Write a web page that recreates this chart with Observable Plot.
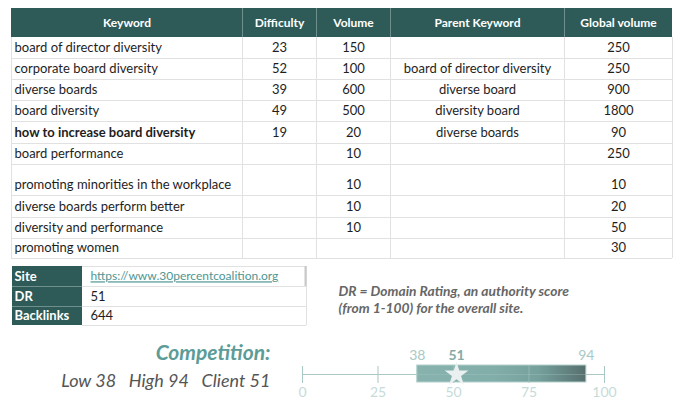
<!DOCTYPE html>
<html>
<head>
<meta charset="utf-8">
<script src="https://cdn.jsdelivr.net/npm/d3@7"></script>
<script src="https://cdn.jsdelivr.net/npm/@observablehq/plot@0.6"></script>
<style>
  html, body { margin: 0; padding: 0; background: #fff; }
  #wrap { position: relative; width: 684px; height: 408px; font-family: Lato, sans-serif; }
  #wrap svg { position: absolute; left: 0; top: 0; background: transparent; }
</style>
</head>
<body>
<div id="wrap"></div>
<script>
// ---------- DATA ----------
const headers = ["Keyword", "Difficulty", "Volume", "Parent Keyword", "Global volume"];
const keywords = [
  "board of director diversity", "corporate board diversity", "diverse boards", "board diversity",
  "how to increase board diversity", "board performance", "promoting minorities in the workplace",
  "diverse boards perform better", "diversity and performance", "promoting women"
];
const difficulty = [23, 52, 39, 49, 19, null, null, null, null, null];
const volume = [150, 100, 600, 500, 20, 10, 10, 10, 10, null];
const parentKeyword = ["", "board of director diversity", "diverse board", "diversity board", "diverse boards", "", "", "", "", ""];
const globalVolume = [250, 250, 900, 1800, 90, 250, 10, 20, 50, 30];
const boldKeywords = ["how to increase board diversity"];

const siteLabels = ["Site", "DR", "Backlinks"];
const siteValues = ["https://www.30percentcoalition.org", "51", "644"];
const noteLines = ["DR = Domain Rating, an authority score", "(from 1-100) for the overall site."];

const competitionTitle = "Competition:";
const compLow = 38, compHigh = 94, compClient = 51;
const scaleTicks = [0, 25, 50, 75, 100];

// ---------- LAYOUT ----------
const colEdges = [11, 242, 316, 390, 564, 672];
const headerTop = 8;
const rowEdges = [37, 58, 79, 100, 121, 143, 164, 195, 217, 238, 258];
const rowTextH = 21;
const siteBox = {x0: 12, xl: 82, x1: 306, rows: [266, 286, 306, 325]};
const teal = "#2e5b58";
const gridC = "#e1e1e1";

// build cells
const columns = [keywords, difficulty, volume, parentKeyword, globalVolume];
const headerCells = headers.map((h, j) => ({text: h, x: (colEdges[j] + colEdges[j + 1]) / 2, y: (headerTop + rowEdges[0]) / 2}));
const keywordCells = [];
const valueCells = [];
keywords.forEach((k, i) => {
  const y = rowEdges[i + 1] - rowTextH / 2;
  columns.forEach((col, j) => {
    const v = col[i];
    if (v === null || v === "") return;
    if (j === 0) keywordCells.push({text: v, x: colEdges[0] + 3, y, bold: boldKeywords.includes(v)});
    else valueCells.push({text: String(v), x: (colEdges[j] + colEdges[j + 1]) / 2, y});
  });
});
const siteCells = siteLabels.map((l, i) => ({
  label: l, value: siteValues[i],
  y: (siteBox.rows[i] + siteBox.rows[i + 1]) / 2,
  y1: siteBox.rows[i], y2: siteBox.rows[i + 1]
}));

const tablePlot = Plot.plot({
  width: 684, height: 408, margin: 0,
  x: {type: "identity", axis: null},
  y: {type: "identity", axis: null},
  style: {fontFamily: "Lato, sans-serif", background: "transparent"},
  marks: [
    // header
    Plot.rect([0], {x1: colEdges[0], x2: colEdges[colEdges.length - 1], y1: headerTop, y2: rowEdges[0], fill: teal}),
    Plot.ruleX(colEdges.slice(1, -1), {y1: headerTop, y2: rowEdges[0], stroke: "#6f8f8d", strokeWidth: 1}),
    Plot.text(headerCells, {x: "x", y: "y", text: "text", fill: "#fff", fontWeight: "bold", fontSize: 12}),
    // body grid
    Plot.ruleY(rowEdges.slice(1), {x1: colEdges[0], x2: colEdges[colEdges.length - 1], stroke: gridC}),
    Plot.ruleX(colEdges, {y1: rowEdges[0], y2: rowEdges[rowEdges.length - 1], stroke: gridC}),
    Plot.text(keywordCells.filter(d => !d.bold), {x: "x", y: "y", text: "text", textAnchor: "start", fill: "#1e1e1e", fontSize: 13}),
    Plot.text(keywordCells.filter(d => d.bold), {x: "x", y: "y", text: "text", textAnchor: "start", fill: "#1e1e1e", fontSize: 13, fontWeight: "bold"}),
    Plot.text(valueCells, {x: "x", y: "y", text: "text", textAnchor: "middle", fill: "#1e1e1e", fontSize: 13}),
    // site box
    Plot.rect(siteCells, {x1: siteBox.x0, x2: siteBox.xl, y1: "y1", y2: "y2", fill: teal}),
    Plot.ruleY(siteBox.rows.slice(1, -1), {x1: siteBox.x0, x2: siteBox.xl, stroke: "#6f8f8d"}),
    Plot.ruleY(siteBox.rows, {x1: siteBox.xl, x2: siteBox.x1, stroke: gridC}),
    Plot.ruleX([siteBox.x1], {y1: siteBox.rows[0], y2: siteBox.rows[3], stroke: gridC}),
    Plot.ruleX([siteBox.x1 - 1], {y1: siteBox.rows[0], y2: siteBox.rows[1], stroke: "#c8c8c8", strokeWidth: 2}),
    Plot.text(siteCells, {x: siteBox.x0 + 2, y: "y", text: "label", textAnchor: "start", fill: "#fff", fontWeight: "bold", fontSize: 13}),
    Plot.text(siteCells.slice(0, 1), {x: siteBox.xl + 8, y: "y", text: "value", textAnchor: "start", fill: "#4e9692", fontSize: 12}),
    Plot.text(siteCells.slice(1), {x: siteBox.xl + 8, y: "y", text: "value", textAnchor: "start", fill: "#1e1e1e", fontSize: 13}),
    // note
    Plot.text(noteLines, {x: 338, y: (d, i) => 291 + i * 17, text: d => d, textAnchor: "start", fill: "#666",
      fontSize: 13.8, fontStyle: "italic", fontWeight: 700}),
    // competition text
    Plot.text([competitionTitle], {x: 270, y: 353, text: d => d, textAnchor: "end", fill: "#5c9c98",
      fontSize: 21, fontStyle: "italic", fontWeight: "bold"}),
    Plot.text([`Low ${compLow}\u00a0\u00a0 High ${compHigh}\u00a0\u00a0 Client ${compClient}`], {x: 270, y: 381, text: d => d,
      textAnchor: "end", fill: "#555", fontSize: 18, fontStyle: "italic"})
  ]
});
d3.select(tablePlot).selectAll("text").filter(function () { return this.textContent.startsWith("http"); })
  .style("text-decoration", "underline");

// ---------- BULLET ----------
const bulletY = 374, barTop = 365, barBottom = 382, tickTop = 366, tickBottom = 383;
const bulletPlot = Plot.plot({
  width: 684, height: 408,
  marginLeft: 302, marginRight: 80, marginTop: 0, marginBottom: 0,
  x: {domain: [scaleTicks[0], scaleTicks[scaleTicks.length - 1]], axis: null},
  y: {type: "identity", axis: null},
  style: {fontFamily: "Lato, sans-serif", background: "transparent"},
  marks: [
    () => {
      const defs = d3.create("svg:defs");
      const g = defs.append("linearGradient").attr("id", "bulletGrad");
      [["0%", "#87b2ae"], ["45%", "#82aeaa"], ["72%", "#75a09c"], ["100%", "#566f6e"]]
        .forEach(([o, c]) => g.append("stop").attr("offset", o).attr("stop-color", c));
      return defs.node();
    },
    Plot.ruleY([bulletY], {x1: scaleTicks[0], x2: scaleTicks[scaleTicks.length - 1], stroke: "#a9c7c4"}),
    Plot.ruleX(scaleTicks, {y1: tickTop, y2: tickBottom, stroke: "#a9c7c4"}),
    Plot.rect([{low: compLow, high: compHigh}], {x1: "low", x2: "high", y1: barTop, y2: barBottom,
      fill: "url(#bulletGrad)", stroke: "#b3cfcc", strokeWidth: 1}),
    Plot.ruleY([bulletY], {x1: compLow, x2: compHigh, stroke: "#a9c7c4", strokeOpacity: 0.35}),
    Plot.ruleX(scaleTicks.filter(t => t > compLow && t < compHigh), {y1: barTop, y2: barBottom, stroke: "#a9c7c4", strokeOpacity: 0.6}),
    Plot.dot([compClient], {x: d => d, y: bulletY, symbol: "star", r: 7.5, fill: "#eaf0ef", stroke: null}),
    Plot.text(scaleTicks, {x: d => d, y: 392, text: d => String(d), fill: "#c6dbd9", fontSize: 14}),
    Plot.text([compLow, compHigh], {x: d => d, y: 355, text: d => String(d), fill: "#a9c9c6", fontSize: 14}),
    Plot.text([compClient], {x: d => d, y: 355, text: d => String(d), fill: "#86aaa7", fontSize: 14, fontWeight: "bold"})
  ]
});

const wrap = document.getElementById("wrap");
wrap.appendChild(tablePlot);
wrap.appendChild(bulletPlot);
</script>
</body>
</html>
